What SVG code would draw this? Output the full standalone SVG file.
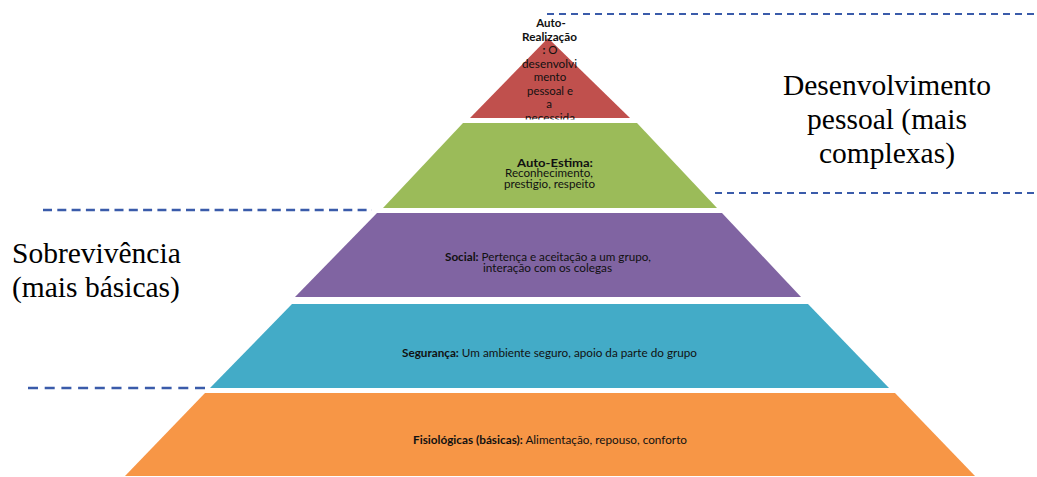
<svg xmlns="http://www.w3.org/2000/svg" width="1037" height="477" viewBox="0 0 1037 477">
<style>
.lbl{font-family:Lato,"Open Sans","Liberation Sans",sans-serif;fill:#111;text-anchor:middle}
.b{font-weight:bold}
.big{font-family:"Liberation Serif","Times New Roman",serif;font-size:29.5px;fill:#000}
.dash{stroke:#3A5BAA;fill:none}
</style>
<defs>
<clipPath id="clipTop"><rect x="440" y="0" width="220" height="119.5"/></clipPath>
</defs>
<rect width="1037" height="477" fill="#fff"/>
<g id="connectors">
<line class="dash" x1="547" y1="14" x2="1037" y2="14" stroke-width="2" stroke-dasharray="7 5"/>
<line class="dash" x1="715" y1="193" x2="1037" y2="193" stroke-width="2" stroke-dasharray="7 5"/>
<line class="dash" x1="43" y1="210" x2="372" y2="210" stroke-width="2.5" stroke-dasharray="9 5.3"/>
<line class="dash" x1="28" y1="388" x2="208" y2="388" stroke-width="2.5" stroke-dasharray="10 6.7"/>
</g>
<g id="level-auto-realizacao">
<polygon points="548,38 630,118 470,118" fill="#C0504D"/>
<g clip-path="url(#clipTop)">
<text class="lbl b" font-size="11.5" x="551" y="27">Auto-</text>
<text class="lbl b" font-size="11.5" x="549.5" y="40.5" textLength="55" lengthAdjust="spacingAndGlyphs">Realização</text>
<text class="lbl" font-size="11.5" x="550" y="54"><tspan class="b">:</tspan> O</text>
<text class="lbl" font-size="11.5" x="549.5" y="67.5" textLength="55" lengthAdjust="spacingAndGlyphs">desenvolvi</text>
<text class="lbl" font-size="11.5" x="550" y="81">mento</text>
<text class="lbl" font-size="11.5" x="550" y="94.5" textLength="46" lengthAdjust="spacingAndGlyphs">pessoal e</text>
<text class="lbl" font-size="11.5" x="549" y="108">a</text>
<text class="lbl" font-size="11.5" x="550" y="121.5" textLength="50" lengthAdjust="spacingAndGlyphs">necessida</text>
</g>
</g>
<g id="level-auto-estima">
<polygon points="463,123 637,123 717,208 383,208" fill="#9BBB59"/>
<text class="lbl b" font-size="10.5" x="555" y="166.5" textLength="76" lengthAdjust="spacingAndGlyphs">Auto-Estima:</text>
<text class="lbl" font-size="10.5" x="549" y="177" textLength="88" lengthAdjust="spacingAndGlyphs">Reconhecimento,</text>
<text class="lbl" font-size="10.5" x="549.5" y="187.5" textLength="91" lengthAdjust="spacingAndGlyphs">prestigio, respeito</text>
</g>
<g id="level-social">
<polygon points="377,213 722,213 801,297 295,297" fill="#8064A2"/>
<text class="lbl" font-size="10.5" x="548" y="260.5" textLength="206" lengthAdjust="spacingAndGlyphs"><tspan class="b">Social:</tspan> Pertença e aceitação a um grupo,</text>
<text class="lbl" font-size="10.5" x="547.5" y="271.5" textLength="129" lengthAdjust="spacingAndGlyphs">interação com os colegas</text>
</g>
<g id="level-seguranca">
<polygon points="292,304 808,304 889,388 210,388" fill="#43ABC7"/>
<text class="lbl" font-size="11" x="549.5" y="356.5" textLength="295" lengthAdjust="spacingAndGlyphs"><tspan class="b">Segurança:</tspan> Um ambiente seguro, apoio da parte do grupo</text>
</g>
<g id="level-fisiologicas">
<polygon points="205,393 895,393 975,476 125,476" fill="#F79646"/>
<text class="lbl" font-size="10.5" x="550" y="444" textLength="274" lengthAdjust="spacingAndGlyphs"><tspan class="b">Fisiológicas (básicas):</tspan> Alimentação, repouso, conforto</text>
</g>
<g id="label-desenvolvimento">
<text class="big" x="887" y="95" text-anchor="middle">Desenvolvimento</text>
<text class="big" x="887" y="129" text-anchor="middle">pessoal (mais</text>
<text class="big" x="887" y="163" text-anchor="middle">complexas)</text>
</g>
<g id="label-sobrevivencia">
<text class="big" x="12" y="263">Sobrevivência</text>
<text class="big" x="12" y="297">(mais básicas)</text>
</g>
</svg>
